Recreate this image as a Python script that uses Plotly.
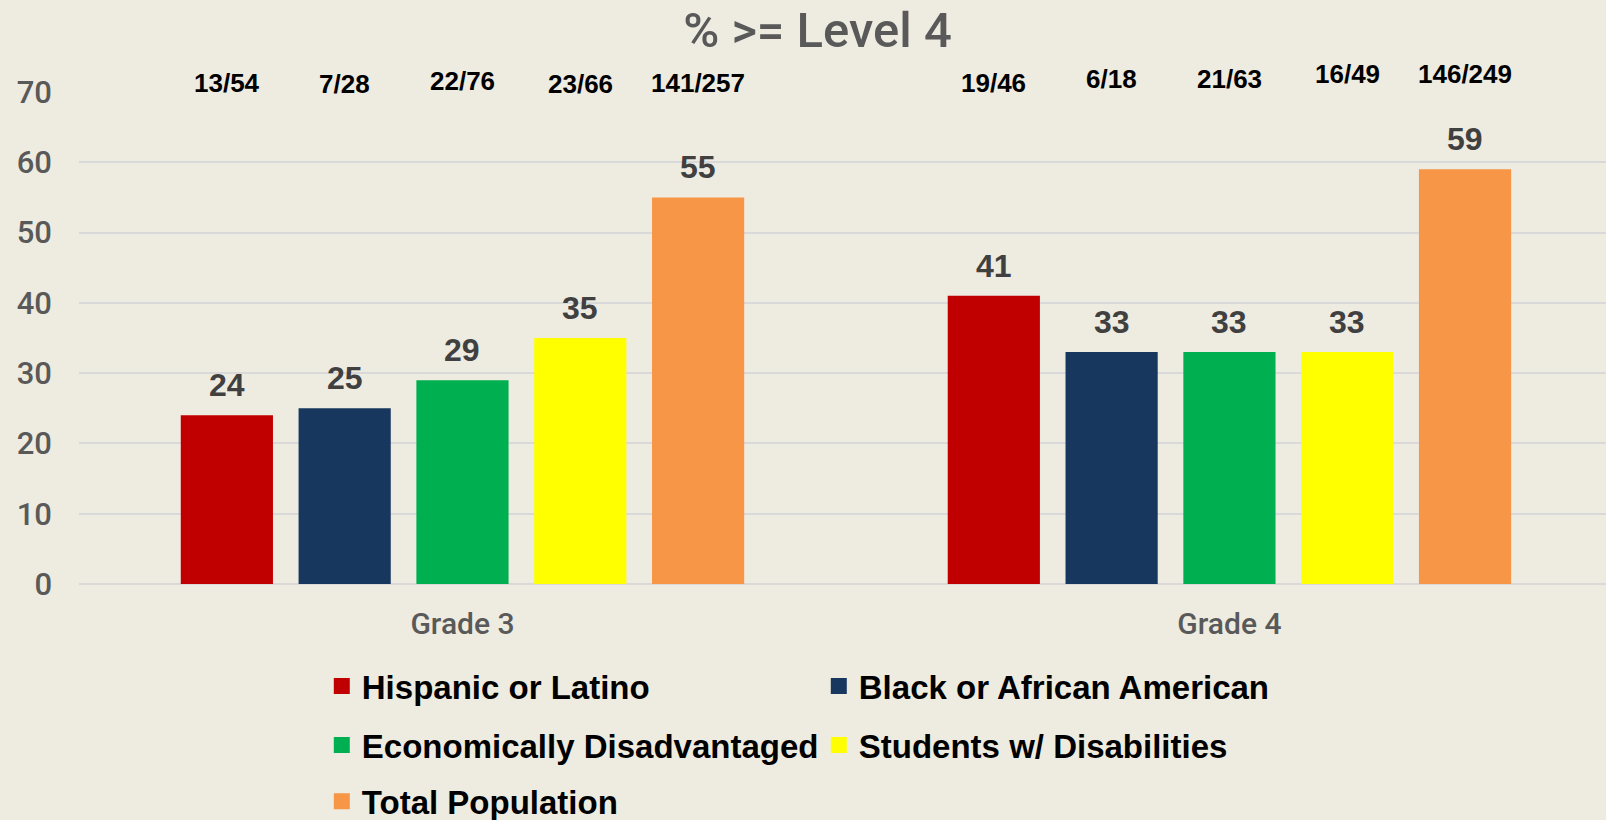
import plotly.graph_objects as go

# ---- data ----
grades = ["Grade 3", "Grade 4"]
series_names = ["Hispanic or Latino", "Black or African American",
                "Economically Disadvantaged", "Students w/ Disabilities",
                "Total Population"]
hispanic = [24, 41]
black = [25, 33]
econ = [29, 33]
swd = [35, 33]
total = [55, 59]
fractions_hispanic = ["13/54", "19/46"]
fractions_black = ["7/28", "6/18"]
fractions_econ = ["22/76", "21/63"]
fractions_swd = ["23/66", "16/49"]
fractions_total = ["141/257", "146/249"]
y_ticks = [0, 10, 20, 30, 40, 50, 60, 70]

values = [hispanic, black, econ, swd, total]
fractions = [fractions_hispanic, fractions_black, fractions_econ,
             fractions_swd, fractions_total]

# ---- style ----
colors = ["#C00000", "#17375E", "#00B050", "#FFFF00", "#F79646"]
bg = "#EEEBE0"
grid = "#D9D9D9"
BARGAP = 0.232
GROUPGAP = 0.2175
# small pixel shifts of fraction labels (per category, per series)
frac_shift = [[0, -1, 2, -1, 0], [0, 4, 4, 9, 9]]
# which legend box (row) each series goes to
legend_ids = ["legend", "legend", "legend2", "legend2", "legend3"]
legend_rows_y = [-0.2073, -0.3272, -0.4415]

fig = go.Figure()
for i, (name, vals) in enumerate(zip(series_names, values)):
    fig.add_trace(go.Bar(x=grades, y=vals, name=name, marker_color=colors[i],
                         marker_line_width=0, showlegend=False,
                         hoverinfo="x+y"))
    # legend-only entry with larger square swatch
    fig.add_trace(go.Scatter(x=[None], y=[None], mode="markers", name=name,
                             marker=dict(symbol="square", size=16,
                                         color=colors[i]),
                             legend=legend_ids[i], showlegend=True))

annotations = []
n = len(series_names)
for c in range(len(grades)):
    for i in range(n):
        xoff = c + (-0.5 + (i + 0.5) / n) * (1 - BARGAP)
        annotations.append(dict(x=xoff, y=values[i][c], xref="x", yref="y",
                                text=str(values[i][c]), showarrow=False,
                                yanchor="bottom", yshift=10,
                                font=dict(family="Liberation Sans", size=32,
                                          color="#404040", weight="bold")))
        annotations.append(dict(x=xoff, y=y_ticks[-1], xref="x", yref="y",
                                text=fractions[i][c], showarrow=False,
                                yanchor="middle", yshift=9 + frac_shift[c][i],
                                font=dict(family="Liberation Sans",
                                          size=26, color="#000000",
                                          weight="bold")))

legend_common = dict(orientation="h", x=0.159, xanchor="left",
                     yanchor="middle", entrywidth=452, entrywidthmode="pixels",
                     itemwidth=30, bgcolor="rgba(0,0,0,0)",
                     font=dict(family="Liberation Sans", size=33,
                               color="#000000", weight="bold"))

fig.update_layout(
    width=1606, height=820,
    paper_bgcolor=bg, plot_bgcolor=bg,
    margin=dict(l=79, r=0, t=92, b=236, autoexpand=False),
    title=dict(text="% >= Level 4", x=0.509, xanchor="center",
               y=0.963, yanchor="middle",
               font=dict(family="Roboto", size=49, color="#595959",
                         weight=500)),
    barmode="group", bargap=BARGAP, bargroupgap=GROUPGAP,
    xaxis=dict(range=[-0.5, 1.491], showgrid=False, showline=False,
               zeroline=False,
               tickfont=dict(family="Roboto", size=30, color="#595959",
                             weight=500),
               ticklabelstandoff=19),
    yaxis=dict(range=[0, 70], tickvals=y_ticks, showgrid=True, gridcolor=grid,
               gridwidth=2, zeroline=True, zerolinecolor=grid, zerolinewidth=2,
               showline=False,
               tickfont=dict(family="Roboto", size=31, color="#595959",
                             weight=500),
               ticklabelstandoff=26),
    legend=dict(legend_common, y=legend_rows_y[0]),
    legend2=dict(legend_common, y=legend_rows_y[1]),
    legend3=dict(legend_common, y=legend_rows_y[2]),
    annotations=annotations,
)

fig.write_html(
    "out.html",
    config={"displayModeBar": False},
    post_script="document.body.style.margin='0';"
                "document.body.style.background='#EEEBE0';",
)
